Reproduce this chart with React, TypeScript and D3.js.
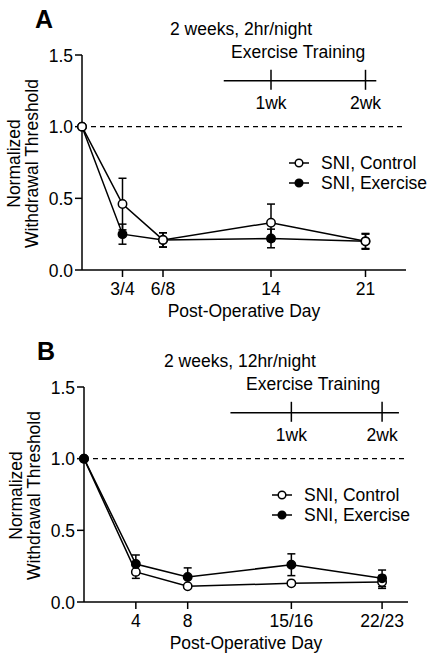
import * as d3 from "d3";
import { FunctionComponent } from "react";

// Panel A: 2 weeks, 2hr/night
const daysA = [0, 3, 6, 14, 21];
const tickLabelsA = ["3/4", "6/8", "14", "21"];
const controlA = [1.0, 0.46, 0.21, 0.33, 0.2];
const controlErrA = [0, 0.18, 0.05, 0.13, 0.055];
const exerciseA = [1.0, 0.25, 0.21, 0.22, 0.2];
const exerciseErrA = [0, 0.07, 0.05, 0.065, 0.05];
const weekTicksA = [14, 21];
const weekSpanA = [10.5, 21.8];

// Panel B: 2 weeks, 12hr/night
const daysB = [0, 4, 8, 16, 23];
const tickLabelsB = ["4", "8", "15/16", "22/23"];
const controlB = [1.0, 0.21, 0.11, 0.13, 0.14];
const controlErrB = [0, 0.045, 0.01, 0.01, 0.045];
const exerciseB = [1.0, 0.265, 0.175, 0.26, 0.165];
const exerciseErrB = [0, 0.063, 0.063, 0.076, 0.058];
const weekTicksB = [16, 23];
const weekSpanB = [11.3, 24.3];

const weekLabels = ["1wk", "2wk"];
const yTicks = [0, 0.5, 1.0, 1.5];
const legendLabels = ["SNI, Control", "SNI, Exercise"];

const font = "'Liberation Sans', Arial, Helvetica, sans-serif";
const fs = 17.5;

type PanelProps = {
    letter: string,
    subtitle: string,
    top: number,
    axisX: number,
    days: number[],
    tickLabels: string[],
    control: number[],
    controlErr: number[],
    exercise: number[],
    exerciseErr: number[],
    weekTicks: number[],
    weekSpan: number[],
    xMax: number,
    controlOnTop: boolean,
    legendX: number,
    subtitleX: number,
    trainingX: number,
}

const Panel: FunctionComponent<PanelProps> = (p) => {
    const y0 = p.top + 215; // pixel y of 0.0
    const x = d3.scaleLinear([0, p.xMax], [p.axisX, p.axisX + 324]);
    const y = d3.scaleLinear([0, 1.5], [y0, p.top]);
    const line = d3.line<number>().x((_, i) => x(p.days[i])).y(d => y(d));

    const series = [
        { values: p.control, errs: p.controlErr, fill: "#fff" },
        { values: p.exercise, errs: p.exerciseErr, fill: "#000" },
    ];
    const ordered = p.controlOnTop ? [series[1], series[0]] : series;

    const timelineY = y(1.32);

    return <g fontFamily={font} fontSize={fs} fill="#000">
        <text x={p.axisX - 47} y={p.top - 27} fontSize={25} fontWeight="bold">{p.letter}</text>
        <text x={p.subtitleX} y={p.top - 20}>{p.subtitle}</text>
        <text x={p.trainingX} y={p.top + 3}>Exercise Training</text>

        {/* training timeline */}
        <line x1={x(p.weekSpan[0])} x2={x(p.weekSpan[1])} y1={timelineY} y2={timelineY} stroke="#000" strokeWidth={1.5} />
        {p.weekTicks.map((d, i) => <g key={i}>
            <line x1={x(d)} x2={x(d)} y1={timelineY - 11} y2={timelineY + 9} stroke="#000" strokeWidth={1.5} />
            <text x={x(d)} y={timelineY + 28} textAnchor="middle">{weekLabels[i]}</text>
        </g>)}

        {/* y axis */}
        <line x1={p.axisX} x2={p.axisX} y1={y(1.5)} y2={y0} stroke="#000" strokeWidth={1.5} />
        {yTicks.map(t => <g key={t}>
            <line x1={p.axisX - 7} x2={p.axisX} y1={y(t)} y2={y(t)} stroke="#000" strokeWidth={1.5} />
            <text x={p.axisX - 9} y={y(t) + 6.5} textAnchor="end">{d3.format(".1f")(t)}</text>
        </g>)}
        <g transform={`translate(${p.axisX - 62},${y(0.75) + 1}) rotate(-90)`}>
            <text x={0} y={0} textAnchor="middle">Normalized</text>
            <text x={0} y={17.5} textAnchor="middle">Withdrawal Threshold</text>
        </g>

        {/* x axis */}
        <line x1={p.axisX} x2={x(p.xMax)} y1={y0} y2={y0} stroke="#000" strokeWidth={1.5} />
        {p.days.slice(1).map((d, i) => <g key={d}>
            <line x1={x(d)} x2={x(d)} y1={y0} y2={y0 + 7} stroke="#000" strokeWidth={1.5} />
            <text x={x(d)} y={y0 + 25} textAnchor="middle">{p.tickLabels[i]}</text>
        </g>)}
        <text x={p.axisX + 162} y={y0 + 47} textAnchor="middle">Post-Operative Day</text>

        {/* baseline */}
        <line x1={p.axisX} x2={x(p.xMax)} y1={y(1)} y2={y(1)} stroke="#000" strokeWidth={1.3} strokeDasharray="5,4" />

        {/* series */}
        {ordered.map((s, k) => <g key={k}>
            <path d={line(s.values) ?? ""} fill="none" stroke="#000" strokeWidth={1.5} />
            {s.values.map((v, i) => s.errs[i] > 0 ? <g key={i} stroke="#000" strokeWidth={1.5}>
                <line x1={x(p.days[i])} x2={x(p.days[i])} y1={y(v - s.errs[i])} y2={y(v + s.errs[i])} />
                <line x1={x(p.days[i]) - 4} x2={x(p.days[i]) + 4} y1={y(v + s.errs[i])} y2={y(v + s.errs[i])} />
                <line x1={x(p.days[i]) - 4} x2={x(p.days[i]) + 4} y1={y(v - s.errs[i])} y2={y(v - s.errs[i])} />
            </g> : null)}
        </g>)}
        {ordered.map((s, k) => <g key={k}>
            {s.values.map((v, i) => <circle key={i} cx={x(p.days[i])} cy={y(v)} r={4.2} fill={s.fill} stroke="#000" strokeWidth={1.5} />)}
        </g>)}

        {/* legend */}
        {series.map((s, k) => {
            const ly = p.top + 108 + k * 20;
            return <g key={k}>
                <line x1={p.legendX - 10} x2={p.legendX + 10} y1={ly} y2={ly} stroke="#000" strokeWidth={1.5} />
                <circle cx={p.legendX} cy={ly} r={3.8} fill={s.fill} stroke="#000" strokeWidth={1.5} />
                <text x={p.legendX + 22} y={ly + 6}>{legendLabels[k]}</text>
            </g>;
        })}
    </g>;
}

export default function App() {
    return <svg width={431} height={654} viewBox="0 0 431 654"
        style={{ position: "absolute", left: 0, top: 0, background: "#fff" }}>
        <rect width={431} height={654} fill="#fff" />
        <Panel letter="A" subtitle="2 weeks, 2hr/night" top={55} axisX={82}
            days={daysA} tickLabels={tickLabelsA}
            control={controlA} controlErr={controlErrA}
            exercise={exerciseA} exerciseErr={exerciseErrA}
            weekTicks={weekTicksA} weekSpan={weekSpanA} xMax={24}
            controlOnTop={true} legendX={299} subtitleX={170} trainingX={231} />
        <Panel letter="B" subtitle="2 weeks, 12hr/night" top={387} axisX={84}
            days={daysB} tickLabels={tickLabelsB}
            control={controlB} controlErr={controlErrB}
            exercise={exerciseB} exerciseErr={exerciseErrB}
            weekTicks={weekTicksB} weekSpan={weekSpanB} xMax={25}
            controlOnTop={false} legendX={282} subtitleX={164} trainingX={246} />
    </svg>;
}
